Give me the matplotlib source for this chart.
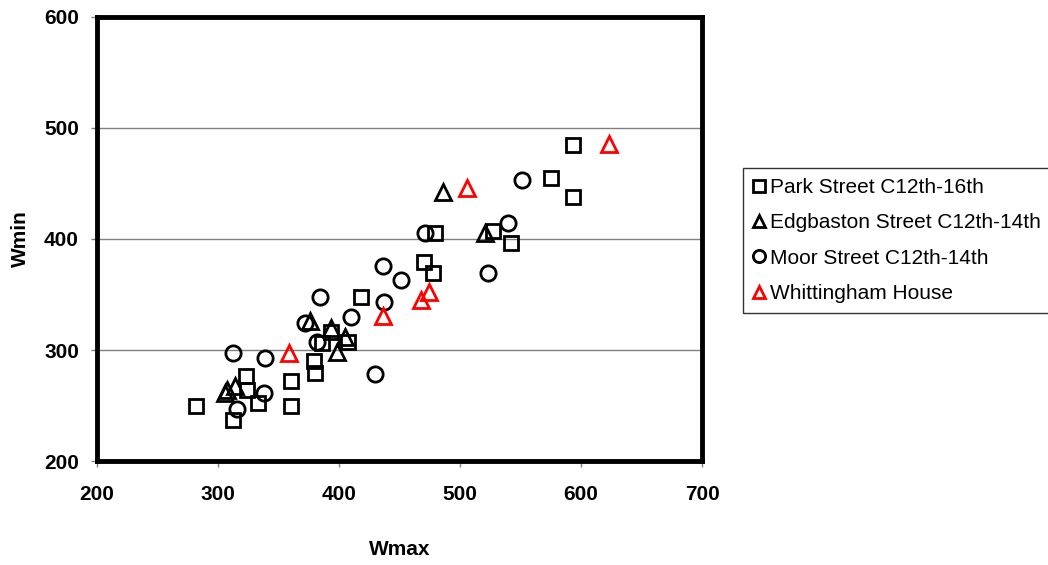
import matplotlib
matplotlib.use('Agg')
import matplotlib.pyplot as plt

plt.rcParams['font.family'] = ['Liberation Sans', 'DejaVu Sans']

# Park Street C12th-16th
park_x = [282, 312, 323, 324, 333, 360, 360, 379, 380, 418, 470, 478, 393, 386, 407,
          593, 575, 593, 527, 542, 479]
park_y = [250, 237, 277, 264, 252, 272, 250, 290, 279, 348, 379, 369, 316, 306, 307,
          485, 455, 438, 407, 396, 405]

# Edgbaston Street C12th-14th
edg_x = [306, 307, 314, 376, 393, 405, 398, 486, 521]
edg_y = [261, 264, 268, 326, 320, 312, 298, 442, 405]

# Moor Street C12th-14th
moor_x = [312, 339, 338, 316, 372, 382, 436, 451, 384, 437, 410, 430, 551, 540, 471, 523]
moor_y = [297, 293, 261, 247, 324, 307, 376, 363, 348, 343, 330, 278, 453, 414, 405, 369]

# Whittingham House
whit_x = [359, 436, 468, 474, 506, 623]
whit_y = [297, 331, 345, 352, 446, 486]

fig = plt.figure(figsize=(10.48, 5.65), dpi=100)
ax = fig.add_axes([0.0926, 0.184, 0.5773, 0.786])

ms = 11
mew = 2.0
ax.plot(park_x, park_y, linestyle='none', marker='s', markersize=ms - 1,
        markerfacecolor='none', markeredgecolor='black', markeredgewidth=mew,
        label='Park Street C12th-16th')
ax.plot(edg_x, edg_y, linestyle='none', marker='^', markersize=ms,
        markerfacecolor='none', markeredgecolor='black', markeredgewidth=mew,
        label='Edgbaston Street C12th-14th')
ax.plot(moor_x, moor_y, linestyle='none', marker='o', markersize=ms,
        markerfacecolor='none', markeredgecolor='black', markeredgewidth=mew,
        label='Moor Street C12th-14th')
ax.plot(whit_x, whit_y, linestyle='none', marker='^', markersize=ms,
        markerfacecolor='none', markeredgecolor='#ff0000', markeredgewidth=mew,
        label='Whittingham House')

ax.set_xlim(200, 700)
ax.set_ylim(200, 600)
ax.set_xticks([200, 300, 400, 500, 600, 700])
ax.set_yticks([200, 300, 400, 500, 600])
ax.yaxis.grid(True, color='#808080', linewidth=1)
ax.set_axisbelow(True)

for s in ax.spines.values():
    s.set_linewidth(3.5)
    s.set_color('black')

ax.tick_params(axis='both', direction='out', length=4, width=1, color='#808080',
               labelsize=15)
ax.tick_params(axis='x', pad=13)
ax.tick_params(axis='y', pad=9)
for lab in ax.get_xticklabels() + ax.get_yticklabels():
    lab.set_fontweight('bold')

ax.set_xlabel('Wmax', fontsize=15, fontweight='bold', va='center')
ax.set_ylabel('Wmin', fontsize=15, fontweight='bold', va='center')
ax.xaxis.set_label_coords(0.5, -0.2)
ax.yaxis.set_label_coords(-0.127, 0.5)

leg = fig.legend(loc='upper left', bbox_to_anchor=(0.709, 0.703), fontsize=15,
                 frameon=True, fancybox=False, edgecolor='black', markerscale=0.8,
                 handlelength=0.5, handletextpad=0.3, labelspacing=0.78,
                 borderpad=0.5, borderaxespad=0)
leg.get_frame().set_linewidth(1)

fig.savefig('out.png', dpi=100)
